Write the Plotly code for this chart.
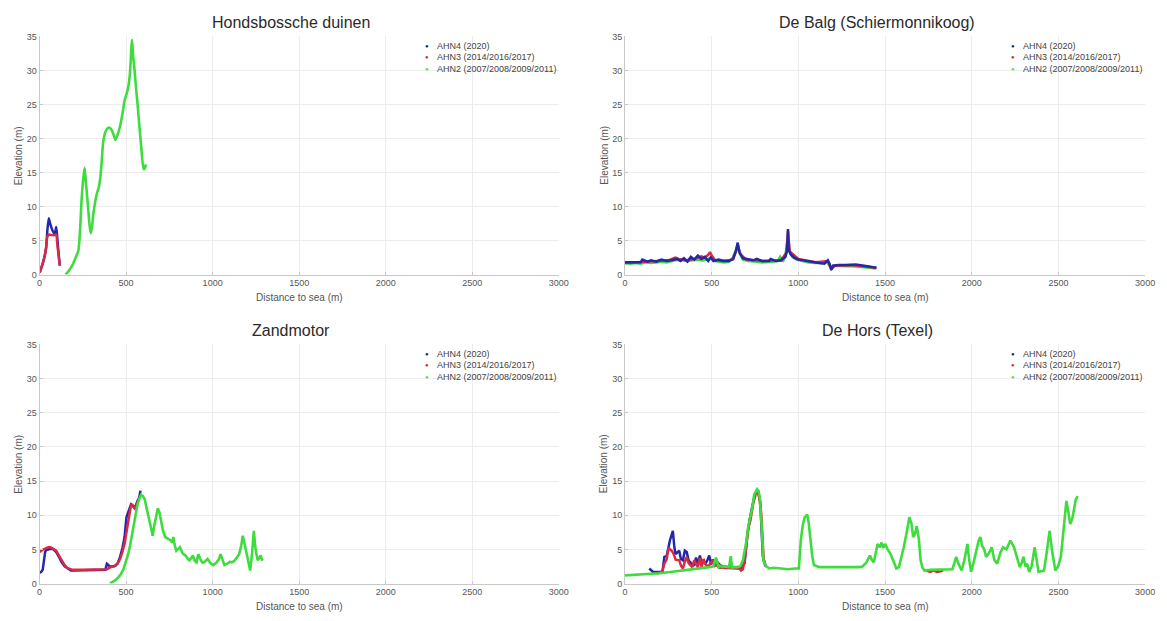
import plotly.graph_objects as go

# ---------------- data ----------------
series_names = ["AHN4 (2020)", "AHN3 (2014/2016/2017)", "AHN2 (2007/2008/2009/2011)"]
panel_titles = ["Hondsbossche duinen", "De Balg (Schiermonnikoog)", "Zandmotor", "De Hors (Texel)"]
x_ticks = [0, 500, 1000, 1500, 2000, 2500, 3000]
y_ticks = [0, 5, 10, 15, 20, 25, 30, 35]

# Hondsbossche duinen
h_ahn4_x = [0, 10, 20, 30, 38, 45, 53, 60, 70, 80, 88, 96, 102, 110, 117]
h_ahn4_y = [0.3, 1.0, 1.8, 2.8, 4.0, 6.5, 8.3, 7.6, 6.8, 6.2, 6.0, 7.0, 5.5, 3.0, 1.3]
h_ahn3_x = [0, 10, 20, 30, 38, 45, 55, 70, 85, 96, 102, 110, 117]
h_ahn3_y = [0.3, 1.0, 1.8, 2.8, 4.0, 5.6, 5.9, 5.8, 5.8, 5.9, 4.5, 2.8, 1.3]
h_ahn2_x = [150, 170, 192, 210, 224, 235, 242, 252, 260, 268,
            278, 288, 295, 302, 310, 320, 331, 342, 352, 360,
            367, 378, 389, 402, 416, 428, 438, 450, 465, 478,
            491, 502, 512, 522, 534, 541, 549, 557, 566, 576,
            587, 595, 602, 608, 615]
h_ahn2_y = [0, 0.6, 1.5, 2.6, 3.5, 7.0, 10.7, 14.0, 15.7, 13.5,
            10.5, 7.5, 6.1, 6.8, 8.8, 10.5, 11.9, 12.8, 14.5, 17.0,
            19.4, 20.8, 21.4, 21.6, 21.3, 20.5, 19.8, 20.5, 21.8, 23.5,
            25.6, 26.5, 27.5, 29.5, 34.5, 32.0, 30.0, 27.5, 25.1, 22.0,
            18.9, 16.5, 15.5, 15.6, 16.2]

# De Balg (Schiermonnikoog)
b_ahn4_x = [0, 40, 90, 100, 130, 150, 180, 210, 240, 270,
            300, 320, 340, 360, 380, 400, 420, 440, 460, 480,
            495, 510, 540, 570, 600, 625, 640, 650, 660, 680,
            710, 740, 760, 790, 830, 840, 870, 900, 925, 935,
            940, 945, 955, 975, 1000, 1040, 1080, 1120, 1150, 1170,
            1180, 1190, 1200, 1230, 1280, 1330, 1380, 1420, 1450]
b_ahn4_y = [1.8, 1.8, 1.8, 2.2, 1.9, 2.1, 1.9, 2.2, 2.0, 2.1,
            2.3, 2.0, 2.4, 1.9, 2.6, 2.2, 2.8, 2.3, 2.6, 2.0,
            2.5, 2.0, 2.2, 2.0, 2.0, 2.3, 3.5, 4.7, 3.3, 2.4,
            2.2, 2.1, 2.3, 2.0, 2.0, 2.3, 2.0, 2.1, 2.6, 3.5,
            6.7, 3.6, 3.0, 2.5, 2.2, 2.0, 1.9, 1.7, 1.6, 2.1,
            1.6, 0.7, 1.3, 1.4, 1.4, 1.5, 1.3, 1.1, 1.0]
b_ahn3_x = [0, 50, 100, 150, 200, 250, 290, 310, 350, 400,
            440, 460, 480, 490, 500, 520, 560, 620, 640, 650,
            665, 700, 800, 900, 930, 940, 950, 1000, 1100, 1170,
            1190, 1210, 1300, 1450]
b_ahn3_y = [1.7, 1.8, 1.9, 1.9, 2.0, 2.1, 2.5, 2.3, 2.1, 2.3,
            2.7, 2.5, 2.9, 3.3, 2.8, 2.1, 2.0, 2.2, 3.4, 4.4,
            3.0, 2.2, 2.0, 2.1, 3.2, 6.4, 3.4, 2.3, 1.8, 2.0,
            0.8, 1.3, 1.4, 1.0]
b_ahn2_x = [0, 30, 60, 90, 120, 150, 180, 210, 240, 270,
            300, 330, 360, 390, 420, 450, 480, 500, 520, 545,
            570, 600, 620, 640, 650, 660, 680, 710, 740, 760,
            790, 820, 850, 880, 895, 910, 925, 935, 942, 950,
            965, 990, 1020, 1060, 1100, 1140, 1165, 1175, 1188, 1200,
            1230, 1280, 1330, 1380, 1420, 1450]
b_ahn2_y = [1.7, 1.6, 1.7, 1.6, 1.8, 1.7, 1.8, 1.9, 1.8, 2.0,
            2.2, 2.1, 2.0, 2.1, 2.2, 2.1, 2.3, 2.6, 2.0, 1.9,
            1.8, 1.9, 2.4, 3.6, 4.2, 3.2, 2.2, 2.0, 2.0, 1.9,
            1.8, 1.8, 1.9, 2.0, 2.6, 1.9, 2.8, 4.5, 5.0, 3.4,
            2.6, 2.2, 2.0, 1.8, 1.7, 1.7, 1.9, 1.5, 0.9, 1.3,
            1.3, 1.2, 1.2, 1.1, 1.0, 0.9]

# Zandmotor
z_ahn4_x = [0, 9, 18, 26, 32, 38, 50, 64, 80, 96,
            112, 128, 145, 160, 172, 181, 200, 250, 300, 350,
            380, 389, 398, 406, 420, 438, 452, 465, 480, 491,
            502, 512, 520, 529, 540, 549, 558, 566, 575, 583]
z_ahn4_y = [1.6, 1.7, 2.0, 3.9, 4.6, 4.9, 5.0, 5.1, 5.0, 4.6,
            3.9, 3.1, 2.5, 2.2, 2.0, 1.9, 1.9, 1.9, 1.9, 1.9,
            2.0, 2.9, 2.6, 2.5, 2.5, 2.6, 3.0, 3.9, 5.3, 6.8,
            9.7, 10.6, 11.0, 11.6, 11.4, 11.1, 11.5, 12.1, 12.5, 13.6]
z_ahn3_x = [0, 15, 32, 50, 64, 80, 96, 112, 128, 145,
            160, 175, 190, 250, 300, 350, 390, 410, 430, 450,
            465, 478, 491, 502, 512, 520, 529, 540, 550, 562,
            575]
z_ahn3_y = [4.6, 4.9, 5.1, 5.3, 5.3, 5.1, 4.8, 4.1, 3.4, 2.7,
            2.3, 2.1, 2.0, 2.0, 2.0, 2.0, 2.1, 2.4, 2.5, 2.9,
            3.6, 4.6, 5.8, 7.5, 9.2, 10.6, 11.6, 11.3, 11.0, 11.6,
            12.5]
z_ahn2_x = [406, 420, 438, 455, 470, 486, 502, 513, 523, 533,
            544, 555, 566, 576, 587, 597, 608, 617, 626, 636,
            645, 654, 662, 672, 683, 692, 700, 712, 726, 742,
            758, 766, 773, 782, 790, 800, 811, 827, 843, 854,
            865, 876, 886, 897, 907, 912, 918, 930, 940, 950,
            960, 971, 987, 1003, 1020, 1035, 1046, 1057, 1068, 1085,
            1100, 1110, 1125, 1140, 1153, 1165, 1174, 1185, 1196, 1207,
            1217, 1228, 1238, 1248, 1260, 1270, 1277, 1285, 1292]
z_ahn2_y = [0.0, 0.2, 0.5, 0.9, 1.4, 2.2, 3.4, 4.4, 5.6, 7.0,
            8.7, 10.3, 11.6, 12.4, 13.0, 12.8, 12.3, 11.2, 10.1, 8.8,
            7.7, 7.0, 8.4, 9.8, 11.0, 10.5, 9.2, 7.9, 6.8, 6.5,
            6.3, 6.0, 6.8, 5.5, 4.8, 5.0, 5.3, 4.4, 4.1, 3.7,
            3.4, 3.7, 4.1, 3.3, 3.1, 3.8, 4.3, 3.5, 3.1, 3.1,
            3.4, 3.6, 3.0, 2.7, 3.0, 3.5, 4.3, 3.4, 2.7, 2.9,
            3.2, 3.1, 3.3, 3.8, 4.3, 5.5, 7.0, 5.8, 4.3, 2.8,
            1.9, 4.5, 7.7, 5.0, 3.4, 3.8, 4.1, 3.5, 3.6]

# De Hors (Texel)
t_ahn4_x = [140, 150, 162, 190, 216, 227, 240, 259, 268, 276,
            284, 291, 300, 313, 322, 334, 345, 356, 367, 378,
            388, 399, 410, 420, 432, 442, 453, 464, 475, 486,
            497, 507, 518, 529, 540, 560, 600, 640, 670, 690,
            705, 720, 735, 750, 765, 780, 795, 810]
t_ahn4_y = [2.2, 2.0, 1.7, 1.7, 1.7, 3.9, 4.0, 6.3, 7.0, 7.7,
            5.5, 4.3, 4.5, 4.8, 3.6, 3.4, 4.8, 4.6, 3.4, 3.1,
            2.6, 2.7, 3.8, 2.7, 4.1, 3.0, 3.2, 2.9, 3.4, 4.1,
            2.8, 3.5, 2.9, 3.3, 2.9, 2.5, 2.4, 2.3, 2.2, 3.0,
            7.0, 9.5, 11.5, 13.2, 13.6, 12.0, 4.0, 2.5]
t_ahn3_x = [183, 200, 216, 227, 240, 252, 259, 270, 281, 292,
            302, 313, 323, 334, 345, 356, 367, 378, 388, 399,
            410, 420, 432, 442, 453, 464, 475, 486, 497, 507,
            518, 529, 545, 570, 600, 630, 660, 669, 680, 690,
            700, 712, 723, 740, 755, 770, 785, 800, 815, None,
            1740, 1760, 1780, 1800, 1820, 1835]
t_ahn3_y = [1.4, 1.6, 1.8, 2.9, 3.5, 5.3, 5.0, 4.8, 4.3, 3.5,
            3.4, 3.4, 2.6, 2.2, 3.2, 3.9, 3.0, 2.7, 2.4, 3.4,
            2.8, 2.4, 3.7, 2.4, 3.6, 2.8, 2.5, 2.7, 3.1, 3.4,
            2.6, 2.7, 2.3, 2.3, 2.2, 2.3, 2.2, 1.9, 2.1, 3.4,
            5.5, 8.2, 9.2, 11.8, 13.2, 13.4, 10.5, 3.5, 2.4, None,
            1.9, 1.7, 1.9, 1.7, 1.8, 1.9]
t_ahn2_x = [0, 50, 100, 140, 200, 250, 300, 356, 400, 450,
            486, 510, 525, 540, 548, 560, 580, 600, 610, 618,
            630, 647, 665, 680, 692, 701, 712, 727, 737, 745,
            755, 762, 770, 777, 787, 798, 812, 831, 860, 900,
            940, 980, 1003, 1014, 1025, 1036, 1045, 1051, 1060, 1068,
            1080, 1090, 1120, 1160, 1200, 1250, 1300, 1350, 1370, 1390,
            1413, 1425, 1435, 1446, 1457, 1470, 1480, 1490, 1500, 1515,
            1532, 1550, 1565, 1580, 1595, 1608, 1625, 1640, 1652, 1662,
            1672, 1683, 1695, 1705, 1716, 1727, 1760, 1800, 1850, 1888,
            1900, 1910, 1925, 1942, 1958, 1975, 1985, 1996, 2010, 2025,
            2040, 2050, 2060, 2072, 2083, 2100, 2115, 2130, 2147, 2165,
            2180, 2200, 2223, 2244, 2260, 2277, 2288, 2298, 2310, 2320,
            2331, 2345, 2363, 2375, 2385, 2400, 2417, 2432, 2449, 2465,
            2482, 2498, 2514, 2530, 2546, 2557, 2568, 2580, 2590, 2600,
            2611]
t_ahn2_y = [1.2, 1.25, 1.3, 1.4, 1.5, 1.65, 1.8, 1.9, 2.1, 2.2,
            2.4, 2.5, 3.8, 2.4, 2.6, 2.4, 2.5, 2.4, 4.0, 2.3,
            2.4, 2.4, 2.5, 3.4, 5.0, 6.3, 8.5, 10.1, 11.5, 13.0,
            13.5, 13.8, 13.5, 12.6, 9.0, 3.4, 2.6, 2.2, 2.3, 2.2,
            2.1, 2.2, 2.2, 6.3, 8.5, 9.7, 10.0, 10.1, 8.8, 6.8,
            4.0, 2.7, 2.4, 2.4, 2.4, 2.3, 2.4, 2.4, 2.5, 3.0,
            4.1, 3.4, 3.1, 4.5, 5.8, 5.3, 6.0, 5.2, 5.8, 5.0,
            4.3, 3.2, 2.2, 2.4, 3.8, 5.3, 7.5, 9.7, 8.8, 6.8,
            7.2, 8.4, 6.5, 3.4, 2.3, 1.9, 2.0, 2.0, 2.0, 2.1,
            3.0, 3.9, 2.8, 1.9, 3.5, 5.8, 3.5, 1.7, 3.0, 4.5,
            6.3, 6.8, 5.5, 5.0, 3.9, 4.5, 5.3, 3.5, 2.9, 4.5,
            5.3, 5.0, 6.3, 5.3, 4.0, 2.4, 3.0, 3.9, 2.5, 2.9,
            1.7, 2.5, 5.3, 3.5, 1.7, 1.8, 1.9, 4.5, 7.7, 4.5,
            1.9, 2.5, 3.9, 8.0, 12.1, 10.5, 8.7, 9.5, 11.0, 12.3,
            12.8]

# ---------------- styling ----------------
W, H = 1167, 621
C4, C3, C2 = "#2626a8", "#d82a45", "#3edc3e"
LEG4, LEG3, LEG2 = "#1c2466", "#c23030", "#5fd65f"
FONT = "Liberation Sans, Arial, sans-serif"

panels = [
    dict(name=panel_titles[0], data=[(h_ahn4_x, h_ahn4_y), (h_ahn3_x, h_ahn3_y), (h_ahn2_x, h_ahn2_y)], shape="spline", green_first=False),
    dict(name=panel_titles[1], data=[(b_ahn4_x, b_ahn4_y), (b_ahn3_x, b_ahn3_y), (b_ahn2_x, b_ahn2_y)], shape="linear", green_first=True),
    dict(name=panel_titles[2], data=[(z_ahn4_x, z_ahn4_y), (z_ahn3_x, z_ahn3_y), (z_ahn2_x, z_ahn2_y)], shape="linear", green_first=False),
    dict(name=panel_titles[3], data=[(t_ahn4_x, t_ahn4_y), (t_ahn3_x, t_ahn3_y), (t_ahn2_x, t_ahn2_y)], shape="linear", green_first=False),
]
for p in panels:
    for xs, ys in p["data"]:
        assert len(xs) == len(ys)

# pixel geometry of plot areas (left, right, top, bottom)
geom = [(37, 562, 32, 274), (629, 1155, 32, 274), (37, 562, 345, 588), (629, 1155, 345, 588)]

fig = go.Figure()
layout = dict(width=W, height=H, margin=dict(l=0, r=0, t=0, b=0),
              paper_bgcolor="white", plot_bgcolor="white", showlegend=False,
              font=dict(family=FONT, color="#555"))
annotations = []
colors = [C4, C3, C2]
widths = [2.5, 2.5, 2.6]
for i, p in enumerate(panels):
    k = "" if i == 0 else str(i + 1)
    l, r, t, b = geom[i]
    axis_common = dict(showgrid=True, gridcolor="#ececec", gridwidth=1,
                       zeroline=False, showline=True, linecolor="#c8c8c8", linewidth=1,
                       ticks="inside", ticklen=3, tickcolor="#c8c8c8",
                       tickfont=dict(size=9, color="#555"), fixedrange=True)
    layout["xaxis" + k] = dict(domain=[l / W, r / W], anchor="y" + k, range=[0, 3000],
                               tickvals=x_ticks, **axis_common)
    layout["yaxis" + k] = dict(domain=[1 - b / H, 1 - t / H], anchor="x" + k, range=[0, 35],
                               tickvals=y_ticks, **axis_common)
    order = [2, 1, 0] if p["green_first"] else [0, 1, 2]
    for j in order:
        xs, ys = p["data"][j]
        fig.add_trace(go.Scatter(x=xs, y=ys, mode="lines", name=series_names[j],
                                 line=dict(color=colors[j], width=widths[j], shape=p["shape"], smoothing=0.6),
                                 xaxis="x" + k, yaxis="y" + k, connectgaps=False))
    # title
    annotations.append(dict(text=p["name"], xref="paper", yref="paper",
                            x=((l + r) / 2 - 8) / W, y=1 - (t - 14) / H, showarrow=False,
                            xanchor="center", yanchor="middle", font=dict(size=16, color="#2a2a2a")))
    # axis labels
    annotations.append(dict(text="Distance to sea (m)", xref="paper", yref="paper",
                            x=(l + r) / 2 / W, y=1 - (b + 23) / H, showarrow=False,
                            xanchor="center", yanchor="middle", font=dict(size=10, color="#555")))
    annotations.append(dict(text="Elevation (m)", xref="paper", yref="paper",
                            x=(l - 21) / W, y=1 - (t + b) / 2 / H, showarrow=False, textangle=-90,
                            xanchor="center", yanchor="middle", font=dict(size=10, color="#555")))
    # legend (annotation based)
    for j, (yy, mc) in enumerate(zip([0.958, 0.912, 0.864], [LEG4, LEG3, LEG2])):
        annotations.append(dict(text="●", xref="x" + k + " domain", yref="y" + k + " domain",
                                x=0.746, y=yy, showarrow=False, xanchor="center", yanchor="middle",
                                font=dict(size=6, color=mc)))
        annotations.append(dict(text=series_names[j], xref="x" + k + " domain", yref="y" + k + " domain",
                                x=0.761, y=yy, showarrow=False, xanchor="left", yanchor="middle",
                                font=dict(size=9, color="#444")))

layout["annotations"] = annotations
fig.update_layout(**layout)
fig.write_html("out.html")
